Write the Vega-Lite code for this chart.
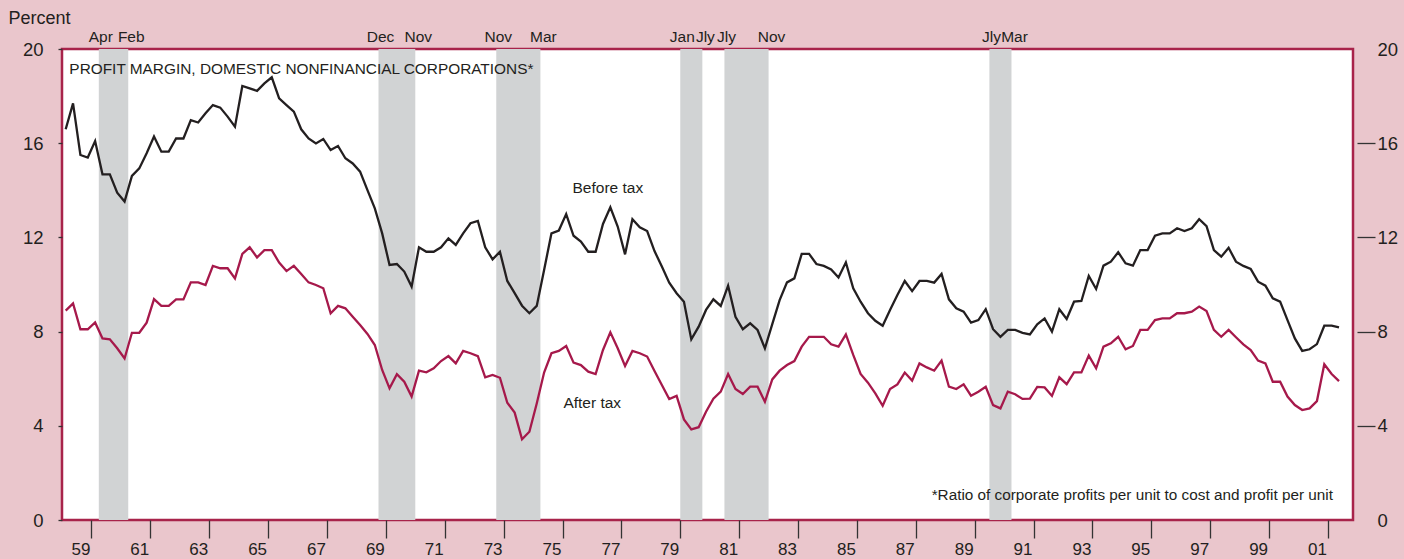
{
"$schema": "https://vega.github.io/schema/vega-lite/v6.json",
"width": 1291, "height": 471,
"autosize": {"type": "none"},
"padding": {"left": 62, "top": 49, "right": 51, "bottom": 39},
"background": "#eac6cc",
"config": {
  "view": {"fill": "white", "stroke": "#a8234a", "strokeWidth": 2.5},
  "axis": {"grid": false, "domain": false, "labelFont": "Liberation Sans", "labelColor": "#231f20", "tickColor": "#333333", "tickWidth": 1.3},
  "text": {"font": "Liberation Sans", "color": "#231f20"}
},
"datasets": {
  "rec": [
    {"s": 1960.25, "e": 1961.25, "sl": "Apr", "el": "Feb"},
    {"s": 1969.75, "e": 1971.0, "sl": "Dec", "el": "Nov"},
    {"s": 1973.75, "e": 1975.25, "sl": "Nov", "el": "Mar"},
    {"s": 1980.0, "e": 1980.75, "sl": "Jan", "el": "Jly"},
    {"s": 1981.5, "e": 1983.0, "sl": "Jly", "el": "Nov"},
    {"s": 1990.5, "e": 1991.25, "sl": "Jly", "el": "Mar"}
  ],
  "m": [
    {"t":1959.125,"b":16.59,"a":8.89},{"t":1959.375,"b":17.69,"a":9.20},{"t":1959.625,"b":15.50,"a":8.10},{"t":1959.875,"b":15.39,"a":8.10},
    {"t":1960.125,"b":16.09,"a":8.39},{"t":1960.375,"b":14.68,"a":7.71},{"t":1960.625,"b":14.68,"a":7.67},{"t":1960.875,"b":13.90,"a":7.29},
    {"t":1961.125,"b":13.52,"a":6.86},{"t":1961.375,"b":14.61,"a":7.95},{"t":1961.625,"b":14.93,"a":7.95},{"t":1961.875,"b":15.57,"a":8.38},
    {"t":1962.125,"b":16.28,"a":9.38},{"t":1962.375,"b":15.64,"a":9.09},{"t":1962.625,"b":15.64,"a":9.09},{"t":1962.875,"b":16.20,"a":9.37},
    {"t":1963.125,"b":16.20,"a":9.37},{"t":1963.375,"b":16.98,"a":10.09},{"t":1963.625,"b":16.88,"a":10.09},{"t":1963.875,"b":17.27,"a":9.98},
    {"t":1964.125,"b":17.62,"a":10.79},{"t":1964.375,"b":17.51,"a":10.69},{"t":1964.625,"b":17.13,"a":10.69},{"t":1964.875,"b":16.70,"a":10.26},
    {"t":1965.125,"b":18.43,"a":11.30},{"t":1965.375,"b":18.33,"a":11.58},{"t":1965.625,"b":18.22,"a":11.15},{"t":1965.875,"b":18.54,"a":11.46},
    {"t":1966.125,"b":18.80,"a":11.46},{"t":1966.375,"b":17.90,"a":10.93},{"t":1966.625,"b":17.62,"a":10.57},{"t":1966.875,"b":17.34,"a":10.79},
    {"t":1967.125,"b":16.59,"a":10.45},{"t":1967.375,"b":16.20,"a":10.09},{"t":1967.625,"b":15.99,"a":9.98},{"t":1967.875,"b":16.18,"a":9.84},
    {"t":1968.125,"b":15.71,"a":8.78},{"t":1968.375,"b":15.88,"a":9.09},{"t":1968.625,"b":15.36,"a":8.99},{"t":1968.875,"b":15.14,"a":8.63},
    {"t":1969.125,"b":14.79,"a":8.28},{"t":1969.375,"b":14.01,"a":7.90},{"t":1969.625,"b":13.23,"a":7.43},{"t":1969.875,"b":12.17,"a":6.37},
    {"t":1970.125,"b":10.83,"a":5.59},{"t":1970.375,"b":10.87,"a":6.19},{"t":1970.625,"b":10.55,"a":5.87},{"t":1970.875,"b":9.91,"a":5.24},
    {"t":1971.125,"b":11.58,"a":6.34},{"t":1971.375,"b":11.39,"a":6.27},{"t":1971.625,"b":11.39,"a":6.44},{"t":1971.875,"b":11.58,"a":6.75},
    {"t":1972.125,"b":11.96,"a":6.96},{"t":1972.375,"b":11.68,"a":6.65},{"t":1972.625,"b":12.17,"a":7.18},{"t":1972.875,"b":12.60,"a":7.08},
    {"t":1973.125,"b":12.70,"a":6.96},{"t":1973.375,"b":11.58,"a":6.06},{"t":1973.625,"b":11.07,"a":6.16},{"t":1973.875,"b":11.39,"a":6.04},
    {"t":1974.125,"b":10.15,"a":4.98},{"t":1974.375,"b":9.63,"a":4.56},{"t":1974.625,"b":9.10,"a":3.43},{"t":1974.875,"b":8.78,"a":3.75},
    {"t":1975.125,"b":9.09,"a":4.95},{"t":1975.375,"b":10.62,"a":6.26},{"t":1975.625,"b":12.17,"a":7.08},{"t":1975.875,"b":12.29,"a":7.18},
    {"t":1976.125,"b":12.99,"a":7.39},{"t":1976.375,"b":12.07,"a":6.68},{"t":1976.625,"b":11.82,"a":6.58},{"t":1976.875,"b":11.39,"a":6.30},
    {"t":1977.125,"b":11.39,"a":6.20},{"t":1977.375,"b":12.57,"a":7.22},{"t":1977.625,"b":13.28,"a":7.97},{"t":1977.875,"b":12.46,"a":7.29},
    {"t":1978.125,"b":11.28,"a":6.54},{"t":1978.375,"b":12.77,"a":7.18},{"t":1978.625,"b":12.43,"a":7.08},{"t":1978.875,"b":12.27,"a":6.94},
    {"t":1979.125,"b":11.42,"a":6.33},{"t":1979.375,"b":10.76,"a":5.73},{"t":1979.625,"b":10.08,"a":5.14},{"t":1979.875,"b":9.63,"a":5.27},
    {"t":1980.125,"b":9.27,"a":4.27},{"t":1980.375,"b":7.67,"a":3.85},{"t":1980.625,"b":8.21,"a":3.94},{"t":1980.875,"b":8.92,"a":4.60},
    {"t":1981.125,"b":9.37,"a":5.15},{"t":1981.375,"b":9.09,"a":5.45},{"t":1981.625,"b":9.95,"a":6.20},{"t":1981.875,"b":8.63,"a":5.56},
    {"t":1982.125,"b":8.10,"a":5.35},{"t":1982.375,"b":8.35,"a":5.66},{"t":1982.625,"b":8.07,"a":5.66},{"t":1982.875,"b":7.29,"a":5.02},
    {"t":1983.125,"b":8.32,"a":5.97},{"t":1983.375,"b":9.34,"a":6.34},{"t":1983.625,"b":10.09,"a":6.58},{"t":1983.875,"b":10.26,"a":6.75},
    {"t":1984.125,"b":11.30,"a":7.36},{"t":1984.375,"b":11.30,"a":7.78},{"t":1984.625,"b":10.87,"a":7.78},{"t":1984.875,"b":10.79,"a":7.78},
    {"t":1985.125,"b":10.64,"a":7.46},{"t":1985.375,"b":10.30,"a":7.36},{"t":1985.625,"b":10.94,"a":7.88},{"t":1985.875,"b":9.84,"a":7.01},
    {"t":1986.125,"b":9.27,"a":6.20},{"t":1986.375,"b":8.78,"a":5.83},{"t":1986.625,"b":8.46,"a":5.38},{"t":1986.875,"b":8.25,"a":4.85},
    {"t":1987.125,"b":8.92,"a":5.56},{"t":1987.375,"b":9.55,"a":5.76},{"t":1987.625,"b":10.15,"a":6.26},{"t":1987.875,"b":9.72,"a":5.92},
    {"t":1988.125,"b":10.15,"a":6.65},{"t":1988.375,"b":10.15,"a":6.48},{"t":1988.625,"b":10.08,"a":6.34},{"t":1988.875,"b":10.45,"a":6.77},
    {"t":1989.125,"b":9.37,"a":5.66},{"t":1989.375,"b":8.99,"a":5.56},{"t":1989.625,"b":8.85,"a":5.76},{"t":1989.875,"b":8.38,"a":5.28},
    {"t":1990.125,"b":8.49,"a":5.45},{"t":1990.375,"b":8.95,"a":5.66},{"t":1990.625,"b":8.10,"a":4.88},{"t":1990.875,"b":7.78,"a":4.74},
    {"t":1991.125,"b":8.07,"a":5.45},{"t":1991.375,"b":8.07,"a":5.34},{"t":1991.625,"b":7.95,"a":5.14},{"t":1991.875,"b":7.88,"a":5.15},
    {"t":1992.125,"b":8.31,"a":5.65},{"t":1992.375,"b":8.56,"a":5.63},{"t":1992.625,"b":8.00,"a":5.27},{"t":1992.875,"b":8.95,"a":6.06},
    {"t":1993.125,"b":8.54,"a":5.77},{"t":1993.375,"b":9.27,"a":6.27},{"t":1993.625,"b":9.30,"a":6.27},{"t":1993.875,"b":10.36,"a":6.98},
    {"t":1994.125,"b":9.81,"a":6.44},{"t":1994.375,"b":10.80,"a":7.36},{"t":1994.625,"b":10.97,"a":7.50},{"t":1994.875,"b":11.37,"a":7.78},
    {"t":1995.125,"b":10.90,"a":7.25},{"t":1995.375,"b":10.80,"a":7.39},{"t":1995.625,"b":11.46,"a":8.07},{"t":1995.875,"b":11.46,"a":8.07},
    {"t":1996.125,"b":12.07,"a":8.49},{"t":1996.375,"b":12.17,"a":8.56},{"t":1996.625,"b":12.17,"a":8.56},{"t":1996.875,"b":12.39,"a":8.78},
    {"t":1997.125,"b":12.27,"a":8.78},{"t":1997.375,"b":12.39,"a":8.85},{"t":1997.625,"b":12.77,"a":9.06},{"t":1997.875,"b":12.48,"a":8.87},
    {"t":1998.125,"b":11.46,"a":8.07},{"t":1998.375,"b":11.18,"a":7.78},{"t":1998.625,"b":11.56,"a":8.07},{"t":1998.875,"b":10.97,"a":7.76},
    {"t":1999.125,"b":10.79,"a":7.46},{"t":1999.375,"b":10.66,"a":7.22},{"t":1999.625,"b":10.12,"a":6.77},{"t":1999.875,"b":9.95,"a":6.65},
    {"t":2000.125,"b":9.41,"a":5.87},{"t":2000.375,"b":9.27,"a":5.87},{"t":2000.625,"b":8.49,"a":5.24},{"t":2000.875,"b":7.71,"a":4.88},
    {"t":2001.125,"b":7.18,"a":4.67},{"t":2001.375,"b":7.25,"a":4.74},{"t":2001.625,"b":7.47,"a":5.05},{"t":2001.875,"b":8.25,"a":6.61},
    {"t":2002.125,"b":8.25,"a":6.20},{"t":2002.375,"b":8.18,"a":5.90}
  ]
},
"layer": [
  {
    "data": {"name": "rec"},
    "mark": {"type": "rect", "color": "#d1d3d4"},
    "encoding": {
      "x": {"field": "s", "type": "quantitative", "scale": {"domain": [1959, 2002.85], "nice": false, "zero": false},
        "axis": {"orient": "bottom", "title": null, "values": [1960,1961,1962,1963,1964,1965,1966,1967,1968,1969,1970,1971,1972,1973,1974,1975,1976,1977,1978,1979,1980,1981,1982,1983,1984,1985,1986,1987,1988,1989,1990,1991,1992,1993,1994,1995,1996,1997,1998,1999,2000,2001,2002],
          "labelExpr": "datum.value % 2 == 0 ? format((datum.value - 1) % 100, '02d') : ''",
          "labelOffset": -11, "tickSize": 18, "labelPadding": 3, "labelFontSize": 17, "labelOverlap": false, "labelFlush": false, "labelBound": false}},
      "x2": {"field": "e"}
    }
  },
  {
    "data": {"name": "m"},
    "mark": {"type": "line", "color": "#231f20", "strokeWidth": 2.3},
    "encoding": {
      "x": {"field": "t", "type": "quantitative", "scale": {"domain": [1959, 2002.85], "nice": false, "zero": false}},
      "y": {"field": "b", "type": "quantitative", "scale": {"domain": [0, 20], "nice": false},
        "axis": {"orient": "left", "values": [0,4,8,12,16,20], "tickSize": 4, "labelPadding": 15, "labelFontSize": 18.5,
          "title": "Percent", "titleAngle": 0, "titleAlign": "left", "titleBaseline": "alphabetic", "titleX": -54, "titleY": -26,
          "titleFont": "Liberation Sans", "titleFontSize": 18, "titleFontWeight": "normal", "titleColor": "#231f20"}}
    }
  },
  {
    "data": {"name": "m"},
    "mark": {"type": "line", "color": "#a6194b", "strokeWidth": 2.3},
    "encoding": {
      "x": {"field": "t", "type": "quantitative", "scale": {"domain": [1959, 2002.85], "nice": false, "zero": false}},
      "y": {"field": "a", "type": "quantitative", "scale": {"domain": [0, 20], "nice": false},
        "axis": {"orient": "right", "values": [0,4,8,12,16,20], "offset": 4, "tickSize": 18, "labelPadding": 2, "labelFontSize": 18.5, "title": null,
          "tickColor": {"condition": {"test": "datum.value == 0 || datum.value == 20", "value": "transparent"}, "value": "#333333"}}}
    }
  },
  {
    "data": {"name": "rec"},
    "mark": {"type": "text", "align": "center", "baseline": "alphabetic", "fontSize": 15.5, "dx": 2},
    "encoding": {
      "x": {"field": "s", "type": "quantitative", "scale": {"domain": [1959, 2002.85], "nice": false, "zero": false}},
      "y": {"datum": 20.3, "type": "quantitative", "scale": {"domain": [0, 20], "nice": false}, "axis": null},
      "text": {"field": "sl"}
    }
  },
  {
    "data": {"name": "rec"},
    "mark": {"type": "text", "align": "center", "baseline": "alphabetic", "fontSize": 15.5, "dx": 3},
    "encoding": {
      "x": {"field": "e", "type": "quantitative", "scale": {"domain": [1959, 2002.85], "nice": false, "zero": false}},
      "y": {"datum": 20.3, "type": "quantitative", "scale": {"domain": [0, 20], "nice": false}, "axis": null},
      "text": {"field": "el"}
    }
  },
  {
    "data": {"values": [{"label": "PROFIT MARGIN, DOMESTIC NONFINANCIAL CORPORATIONS*"}]},
    "mark": {"type": "text", "align": "left", "baseline": "alphabetic", "fontSize": 15.4},
    "encoding": {
      "x": {"datum": 1959.25, "type": "quantitative", "scale": {"domain": [1959, 2002.85], "nice": false, "zero": false}},
      "y": {"datum": 18.94, "type": "quantitative", "scale": {"domain": [0, 20], "nice": false}, "axis": null},
      "text": {"field": "label"}
    }
  },
  {
    "data": {"values": [{"label": "Before tax"}]},
    "mark": {"type": "text", "align": "center", "baseline": "alphabetic", "fontSize": 15.5},
    "encoding": {
      "x": {"datum": 1977.54, "type": "quantitative", "scale": {"domain": [1959, 2002.85], "nice": false, "zero": false}},
      "y": {"datum": 13.89, "type": "quantitative", "scale": {"domain": [0, 20], "nice": false}, "axis": null},
      "text": {"field": "label"}
    }
  },
  {
    "data": {"values": [{"label": "After tax"}]},
    "mark": {"type": "text", "align": "center", "baseline": "alphabetic", "fontSize": 15.5},
    "encoding": {
      "x": {"datum": 1977.01, "type": "quantitative", "scale": {"domain": [1959, 2002.85], "nice": false, "zero": false}},
      "y": {"datum": 4.76, "type": "quantitative", "scale": {"domain": [0, 20], "nice": false}, "axis": null},
      "text": {"field": "label"}
    }
  },
  {
    "data": {"values": [{"label": "*Ratio of corporate profits per unit to cost and profit per unit"}]},
    "mark": {"type": "text", "align": "right", "baseline": "alphabetic", "fontSize": 15.3},
    "encoding": {
      "x": {"datum": 2002.17, "type": "quantitative", "scale": {"domain": [1959, 2002.85], "nice": false, "zero": false}},
      "y": {"datum": 0.85, "type": "quantitative", "scale": {"domain": [0, 20], "nice": false}, "axis": null},
      "text": {"field": "label"}
    }
  }
],
"resolve": {"axis": {"y": "independent"}}
}
